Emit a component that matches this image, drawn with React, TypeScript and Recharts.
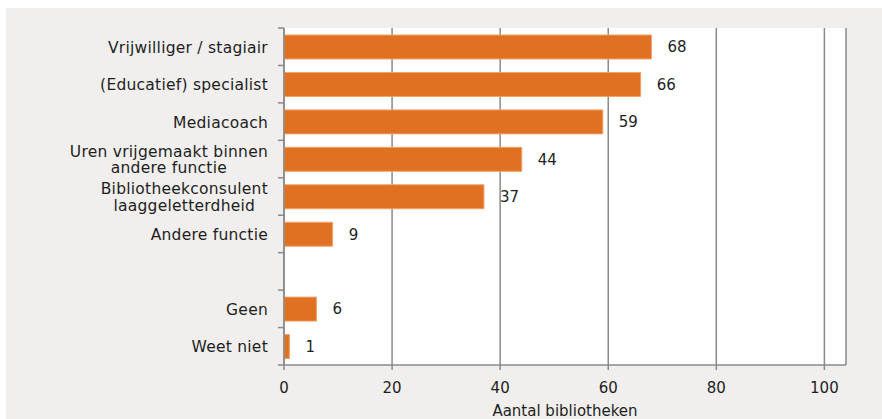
import { BarChart, Bar, XAxis, YAxis, CartesianGrid, LabelList, Label } from 'recharts'

const categories = [
  'Vrijwilliger / stagiair',
  '(Educatief) specialist',
  'Mediacoach',
  'Uren vrijgemaakt binnen\nandere functie',
  'Bibliotheekconsulent\nlaaggeletterdheid',
  'Andere functie',
  '',
  'Geen',
  'Weet niet',
]
const values: (number | null)[] = [68, 66, 59, 44, 37, 9, null, 6, 1]
const xTicks = [0, 20, 40, 60, 80, 100]

const data = categories.map((name, i) => ({ name, value: values[i] }))

const FONT = '"DejaVu Sans", Verdana, sans-serif'
const AXIS = '#8a8a8a'
const TEXT = '#1e1e1e'
const SPACING = 0.25

let ctx: CanvasRenderingContext2D | null = null
function textWidth(s: string, size: number) {
  if (!ctx) ctx = document.createElement('canvas').getContext('2d')
  if (!ctx) return s.length * size * 0.6
  ctx.font = `${size}px "DejaVu Sans"`
  return ctx.measureText(s).width + s.length * SPACING
}

function CategoryTick(props: any) {
  const { x, y, payload, index } = props
  const size = 15.5
  const lh = 16.5
  const lines = String(payload.value).split('\n').filter((l) => l !== '')
  const half = payload.offset ?? 18.7
  const axisX = x + 16
  const maxW = Math.max(0, ...lines.map((l) => textWidth(l, size)))
  const multi = lines.length > 1
  return (
    <g>
      <line x1={axisX - 6} x2={axisX} y1={y + half} y2={y + half} stroke={AXIS} strokeWidth={1.5} />
      {index === 0 && (
        <line x1={axisX - 6} x2={axisX} y1={y - half} y2={y - half} stroke={AXIS} strokeWidth={1.5} />
      )}
      {lines.map((l, i) => (
        <text
          key={i}
          x={multi ? x - maxW / 2 : x}
          y={y - ((lines.length - 1) * lh) / 2 + i * lh + 1}
          textAnchor={multi ? 'middle' : 'end'}
          dominantBaseline="central"
          fontSize={size}
          fontFamily={FONT}
          letterSpacing={SPACING}
          fill={TEXT}
        >
          {l}
        </text>
      ))}
    </g>
  )
}

export default function App() {
  return (
    <div style={{ position: 'absolute', left: 0, top: 0, width: 882, height: 419, background: '#fff' }}>
      <div style={{ position: 'absolute', left: 6, top: 8, width: 876, height: 411, background: '#f0efed' }} />
      <div style={{ position: 'absolute', left: 0, top: 0 }}>
        <BarChart
          width={882}
          height={419}
          data={data}
          layout="vertical"
          margin={{ top: 28, right: 36, bottom: 0, left: 0 }}
          barCategoryGap={0}
        >
          <CartesianGrid horizontal={false} stroke={AXIS} strokeWidth={1.5} fill="#fff" />
          <XAxis
            type="number"
            domain={[0, 104]}
            ticks={xTicks}
            height={54}
            tickSize={5}
            tickMargin={12}
            axisLine={{ stroke: AXIS, strokeWidth: 1.5 }}
            tickLine={{ stroke: AXIS, strokeWidth: 1.5 }}
            tick={{ fill: TEXT, fontSize: 15, fontFamily: FONT }}
          >
            <Label
              value="Aantal bibliotheken"
              position="insideBottom"
              offset={3}
              fill={TEXT}
              fontSize={15}
              fontFamily={FONT}
            />
          </XAxis>
          <YAxis
            type="category"
            dataKey="name"
            width={284}
            interval={0}
            tickSize={0}
            tickMargin={16}
            tickLine={false}
            axisLine={{ stroke: AXIS, strokeWidth: 1.5 }}
            tick={<CategoryTick />}
          />
          <Bar dataKey="value" fill="#E07122" stroke="#F0A36A" strokeWidth={1} barSize={24} isAnimationActive={false}>
            <LabelList dataKey="value" position="right" offset={16} fill={TEXT} fontSize={15} fontFamily={FONT} />
          </Bar>
        </BarChart>
      </div>
    </div>
  )
}
